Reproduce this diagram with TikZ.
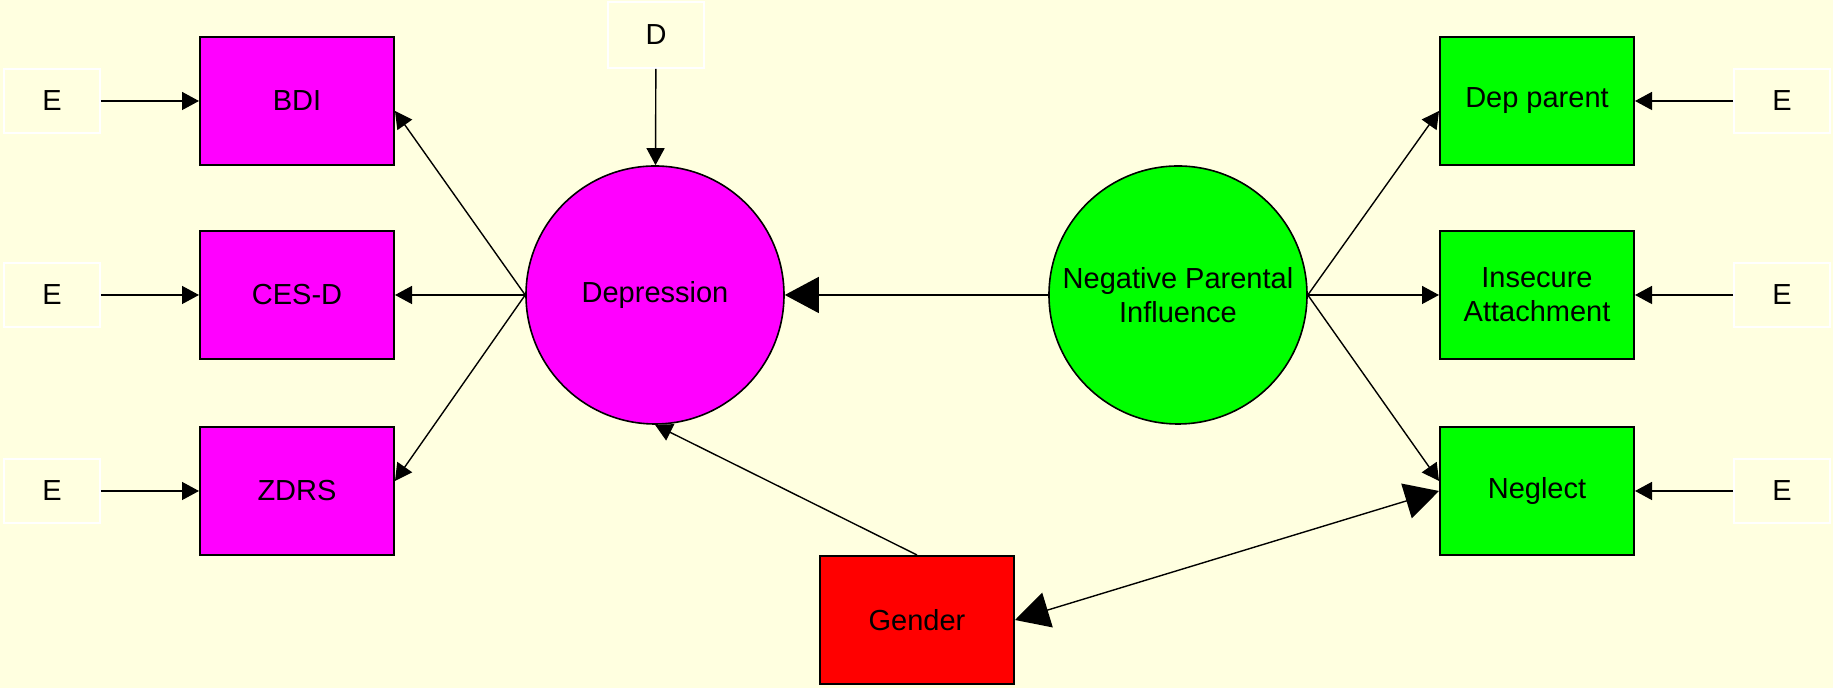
\documentclass[tikz,border=0pt]{standalone}
\usepackage{fontspec}
\setmainfont{Liberation Sans}
\usepackage{xcolor}
\usetikzlibrary{arrows.meta}
\definecolor{bgyellow}{RGB}{255,255,224}
\definecolor{depmag}{RGB}{255,0,255}
\definecolor{npigreen}{RGB}{0,255,0}
\definecolor{genred}{RGB}{255,0,0}
\tikzset{
	obs/.style={draw=black,line width=1pt,minimum width=97pt,minimum height=64pt,align=center},
	errbox/.style={draw=white,line width=0.8pt,fill=bgyellow,minimum width=48pt,minimum height=32pt},
	latent/.style={circle,draw=black,line width=0.8pt,minimum size=129pt,inner sep=0pt,align=center},
	path/.style={line width=0.7pt,-{Triangle[length=8.5pt,width=9pt]}},
	bigpath/.style={line width=0.7pt,-{Triangle[length=17pt,width=18pt]}}
}
\begin{document}
\begin{tikzpicture}[x=0.5pt,y=0.5pt,font=\fontsize{14.5}{17}\selectfont]
			\fill[bgyellow] (0,0) rectangle (1833,688);
			
			% indicators
			\node[obs,fill=depmag] (bdi) at (297,587) {BDI};
			\node[obs,fill=depmag] (cesd) at (297,393) {CES-D};
			\node[obs,fill=depmag] (zdrs) at (297,197) {ZDRS};
			\node[obs,fill=npigreen] (dpar) at (1537,587) {Dep parent};
			\node[obs,fill=npigreen] (ins) at (1537,393) {Insecure\\Attachment};
			\node[obs,fill=npigreen] (negl) at (1537,197) {Neglect};
			\node[obs,fill=genred] (gender) at (917,68) {Gender};
			
			% latent variables
			\node[latent,fill=depmag] (dep) at (655,393) {Depression};
			\node[latent,fill=npigreen] (npi) at (1178,393) {Negative Parental\\Influence};
			
			% error terms
			\foreach \n/\x/\y in {e1/52/587,e2/52/393,e3/52/197,e4/1782/587,e5/1782/393,e6/1782/197}
			\node[errbox] (\n) at (\x,\y) {E};
			\node[errbox,minimum height=33pt] (d) at (656,653) {D};
			
			\foreach \n/\m in {e1/bdi,e2/cesd,e3/zdrs,e4/dpar,e5/ins,e6/negl}
			\draw[path] (\n) -- (\m);
			\draw[path] (d) -- (dep);
			
			\draw[path] (dep.west) -- ([yshift=-5pt]bdi.east);
			\draw[path] (dep.west) -- (cesd.east);
			\draw[path] (dep.west) -- ([yshift=5pt]zdrs.east);
			\draw[path] (npi.east) -- ([yshift=-5pt]dpar.west);
			\draw[path] (npi.east) -- (ins.west);
			\draw[path] (npi.east) -- ([yshift=5pt]negl.west);
			
			\draw[bigpath] (npi.west) -- (dep.east);
			\draw[path] (gender.north) -- (dep.south);
			\draw[bigpath,{Triangle[length=17pt,width=18pt]}-{Triangle[length=17pt,width=18pt]}] (gender.east) -- (negl.west);
\end{tikzpicture}
\end{document}
